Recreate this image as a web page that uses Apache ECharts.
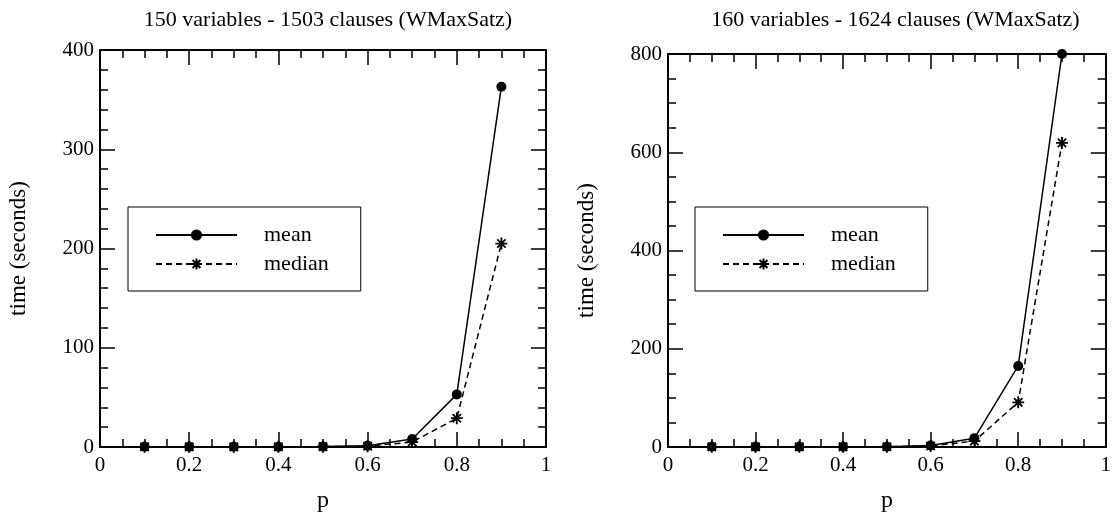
<!DOCTYPE html>
<html>
<head>
<meta charset="utf-8">
<script src="https://cdn.jsdelivr.net/npm/echarts@6/dist/echarts.min.js"></script>
<style>
html,body{margin:0;padding:0;background:#fff;}
#chart{width:1114px;height:518px;}
</style>
</head>
<body>
<div id="chart"></div>
<script>
// ---- data ----
const titles = ['150 variables - 1503 clauses (WMaxSatz)', '160 variables - 1624 clauses (WMaxSatz)'];
const pValues = [0.1, 0.2, 0.3, 0.4, 0.5, 0.6, 0.7, 0.8, 0.9];
const mean150 = [0.3, 0.3, 0.3, 0.3, 0.4, 1.2, 8, 53, 363];
const median150 = [0.2, 0.2, 0.2, 0.2, 0.3, 0.8, 5, 29, 205];
const mean160 = [0.5, 0.5, 0.5, 0.5, 0.6, 3, 18, 165, 800];
const median160 = [0.4, 0.4, 0.4, 0.4, 0.5, 2, 12, 91, 619];
const yMax = [400, 800];
const yInterval = [100, 200];
const yMinorSplit = [5, 4];
const seriesNames = ['mean', 'median'];

// ---- chart ----
const FONT = "'Liberation Serif', 'Times New Roman', serif";
const chart = echarts.init(document.getElementById('chart'), null, {renderer: 'canvas'});
const star = 'path://M0,-6L0,6M-6,0L6,0M-4.2,-4.2L4.2,4.2M-4.2,4.2L4.2,-4.2';

const grids = [
  {left: 100, right: 568, top: 50, bottom: 70},
  {left: 668, right: 1, top: 54, bottom: 70}
];
const axisLine = {show: true, onZero: false, lineStyle: {color: '#000', width: 2}};
const xAxes = [], yAxes = [], series = [], legends = [], titleComps = [];
grids.forEach((g, i) => {
  xAxes.push({
    gridIndex: i, type: 'value', min: 0, max: 1, interval: 0.2, position: 'bottom',
    name: 'p', nameLocation: 'middle', nameGap: 42,
    nameTextStyle: {fontFamily: FONT, fontSize: 24, color: '#000'},
    axisLine: axisLine,
    axisTick: {show: true, inside: true, length: 15, lineStyle: {color: '#000', width: 1.5}},
    minorTick: {show: true, splitNumber: 4, length: 8, lineStyle: {color: '#000', width: 1.5}},
    axisLabel: {fontFamily: FONT, fontSize: 21, color: '#000', margin: 8,
      formatter: v => String(Math.round(v * 10) / 10)},
    splitLine: {show: false}, minorSplitLine: {show: false}
  });
  xAxes.push({
    gridIndex: i, type: 'value', min: 0, max: 1, interval: 0.2, position: 'top',
    axisLine: axisLine,
    axisTick: {show: true, inside: true, length: 15, lineStyle: {color: '#000', width: 1.5}},
    minorTick: {show: true, splitNumber: 4, length: 8, lineStyle: {color: '#000', width: 1.5}},
    axisLabel: {show: false}, splitLine: {show: false}
  });
  yAxes.push({
    gridIndex: i, type: 'value', min: 0, max: yMax[i], interval: yInterval[i], position: 'left',
    name: 'time (seconds)', nameLocation: 'middle', nameGap: 70,
    nameTextStyle: {fontFamily: FONT, fontSize: 23, color: '#000'},
    axisLine: axisLine,
    axisTick: {show: true, inside: true, length: 15, lineStyle: {color: '#000', width: 1.5}},
    minorTick: {show: true, splitNumber: yMinorSplit[i], length: 8, lineStyle: {color: '#000', width: 1.5}},
    axisLabel: {fontFamily: FONT, fontSize: 21, color: '#000', margin: 6},
    splitLine: {show: false}, minorSplitLine: {show: false}
  });
  yAxes.push({
    gridIndex: i, type: 'value', min: 0, max: yMax[i], interval: yInterval[i], position: 'right',
    axisLine: axisLine,
    axisTick: {show: true, inside: true, length: 15, lineStyle: {color: '#000', width: 1.5}},
    minorTick: {show: true, splitNumber: yMinorSplit[i], length: 8, lineStyle: {color: '#000', width: 1.5}},
    axisLabel: {show: false}, splitLine: {show: false}
  });
  titleComps.push({
    text: titles[i], left: (i === 0 ? (100 + 546) / 2 : (668 + 1113) / 2), top: 4, textAlign: 'center',
    textStyle: {fontFamily: FONT, fontSize: 22, fontWeight: 'normal', color: '#000'}
  });
  legends.push({
    data: seriesNames, orient: 'vertical', left: i === 0 ? 128 : 695, top: 207,
    itemWidth: 81, itemHeight: 14, itemGap: 7,
    padding: [17, 32, 16, 27],
    borderColor: '#000', borderWidth: 1, borderRadius: 0,
    textStyle: {fontFamily: FONT, fontSize: 22, color: '#000', padding: [0, 0, 0, 22]},
    selectedMode: false
  });
});

const meanData = [mean150, mean160];
const medianData = [median150, median160];
[0, 1].forEach(i => {
  series.push({
    name: 'mean', type: 'line', xAxisIndex: i * 2, yAxisIndex: i * 2,
    data: pValues.map((p, k) => [p, meanData[i][k]]),
    symbol: 'circle', symbolSize: 10,
    lineStyle: {color: '#000', width: 1.5, type: 'solid'},
    itemStyle: {color: '#000'},
    clip: false, z: 3
  });
  series.push({
    name: 'median', type: 'line', xAxisIndex: i * 2, yAxisIndex: i * 2,
    data: pValues.map((p, k) => [p, medianData[i][k]]),
    symbol: star, symbolSize: 12,
    lineStyle: {color: '#000', width: 1.5, type: [6, 4]},
    itemStyle: {color: 'none', borderColor: '#000', borderWidth: 1.8},
    clip: false, z: 3
  });
});

chart.setOption({
  animation: false,
  backgroundColor: '#fff',
  title: titleComps,
  legend: legends,
  grid: grids,
  xAxis: xAxes,
  yAxis: yAxes,
  series: series
});
</script>
</body>
</html>
